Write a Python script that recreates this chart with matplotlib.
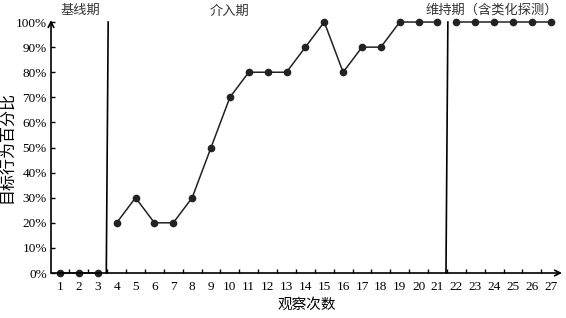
import matplotlib.pyplot as plt
import numpy as np

plt.rcParams['font.family'] = ['Liberation Serif', 'Noto Sans CJK SC']

# session numbers and percentage of target behaviour, by phase
baseline_x = [1, 2, 3]
baseline_y = [0, 0, 0]
interv_x = list(range(4, 22))
interv_y = [20, 30, 20, 20, 30, 50, 70, 80, 80, 80, 90, 100, 80, 90, 90, 100, 100, 100]
maint_x = list(range(22, 28))
maint_y = [100, 100, 100, 100, 100, 100]
phase_breaks = [3.5, 21.5]
phase_names = ['基线期', '介入期', '维持期（含类化探测）']

fig = plt.figure(figsize=(5.66, 3.18), dpi=100)
ax = fig.add_axes([0.0901, 0.1415, 0.9029, 0.7955])

col = '#222222'
for xs, ys in [(baseline_x, baseline_y), (interv_x, interv_y), (maint_x, maint_y)]:
    ax.plot(xs, ys, color=col, lw=1.1, marker='o', markersize=4.5, clip_on=False, zorder=3)

for b in phase_breaks:
    ax.plot([b - 0.05, b + 0.05], [0, 100], color='black', lw=1.2, clip_on=False)

ax.set_xlim(0.52, 27.6)
ax.set_ylim(0, 100.8)

for s in ax.spines.values():
    s.set_visible(False)

# axes with arrows
ax.annotate('', xy=(1.0, 0), xycoords='axes fraction', xytext=(0, 0),
            arrowprops=dict(arrowstyle='->', color='black', lw=1.2, shrinkA=0, shrinkB=0))
ax.annotate('', xy=(0, 1.0), xycoords='axes fraction', xytext=(0, 0),
            arrowprops=dict(arrowstyle='->', color='black', lw=1.2, shrinkA=0, shrinkB=0))

ax.set_xticks(range(1, 28))
ax.set_xticklabels([str(i) for i in range(1, 28)], fontsize=9.5)
ax.set_xticks(np.arange(1.5, 27, 1), minor=True)
ax.tick_params(axis='x', which='major', length=0, pad=6)
ax.tick_params(axis='x', which='minor', direction='in', length=3, width=1)

ax.set_yticks(range(0, 101, 10))
ax.set_yticklabels([f'{v}%' for v in range(0, 101, 10)], fontsize=9.5)
ax.tick_params(axis='y', direction='in', length=3, width=1, pad=3)

ax.set_xlabel('观察次数', fontsize=10.5, labelpad=3)
ax.set_ylabel('目标行为百分比', fontsize=11.5, labelpad=0)

ax.text(2.1, 104.5, phase_names[0], fontsize=9.5, ha='center', va='center', color='#333333')
ax.text(10.0, 104, phase_names[1], fontsize=9.5, ha='center', va='center', color='#333333')
ax.text(23.9, 104.5, phase_names[2], fontsize=9.5, ha='center', va='center', color='#333333')

fig.savefig('out.png', dpi=100)
